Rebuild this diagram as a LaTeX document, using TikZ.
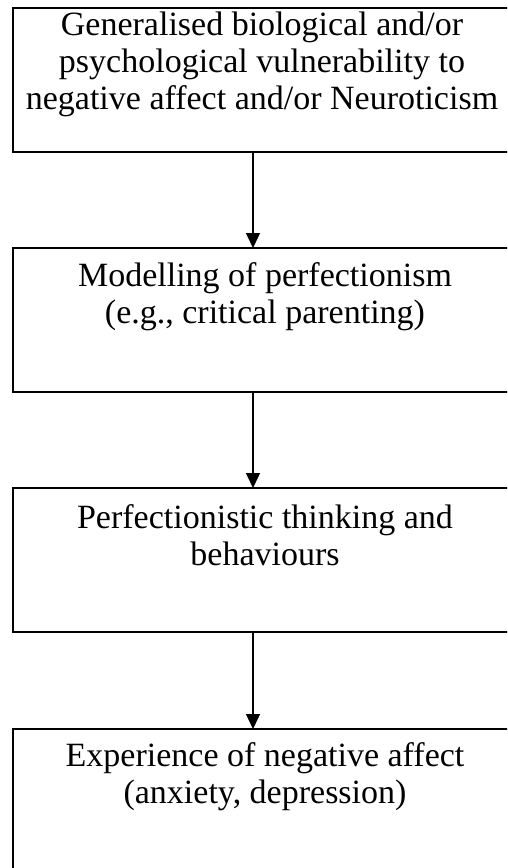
\documentclass[tikz,border=0pt]{standalone}
\usepackage{fontspec}
\setmainfont{Liberation Serif}
\usetikzlibrary{arrows.meta}
\tikzset{
  stagebox/.style={draw=black, line width=1.6pt, fill=none},
  stagetext/.style={anchor=base, align=center, inner sep=0pt, font=\fontsize{34}{37}\selectfont},
  flowarrow/.style={line width=1.4pt, -{Triangle[length=15pt,width=14pt]}, shorten >=0pt}
}
\begin{document}
\begin{tikzpicture}[x=1pt,y=-1pt]
\useasboundingbox (0,0) rectangle (507,868);
\clip (0,0) rectangle (507,868);
\fill[white] (0,0) rectangle (507,868);
% boxes
\draw[stagebox] (13,8) rectangle (515,152);
\draw[stagebox] (13,248) rectangle (515,392);
\draw[stagebox] (13,488) rectangle (515,632);
\draw[stagebox] (13,729) rectangle (515,900);
% texts (anchor base = baseline of last line)
\node[stagetext] (t1) at (262,109) {Generalised biological and/or\\psychological vulnerability to\\negative affect and/or Neuroticism};
\node[stagetext] (t2) at (265,323) {Modelling of perfectionism\\(e.g., critical parenting)};
\node[stagetext] (t3) at (265,565) {Perfectionistic thinking and\\behaviours};
\node[stagetext] (t4) at (265,803) {Experience of negative affect\\(anxiety, depression)};
% connector anchor points
\coordinate (b1) at (253,152);
\coordinate (b2top) at (253,248);
\coordinate (b2) at (253,392);
\coordinate (b3top) at (253,488);
\coordinate (b3) at (253,632);
\coordinate (b4top) at (253,729);
\draw[flowarrow] (b1) -- (b2top);
\draw[flowarrow] (b2) -- (b3top);
\draw[flowarrow] (b3) -- (b4top);
\end{tikzpicture}
\end{document}
